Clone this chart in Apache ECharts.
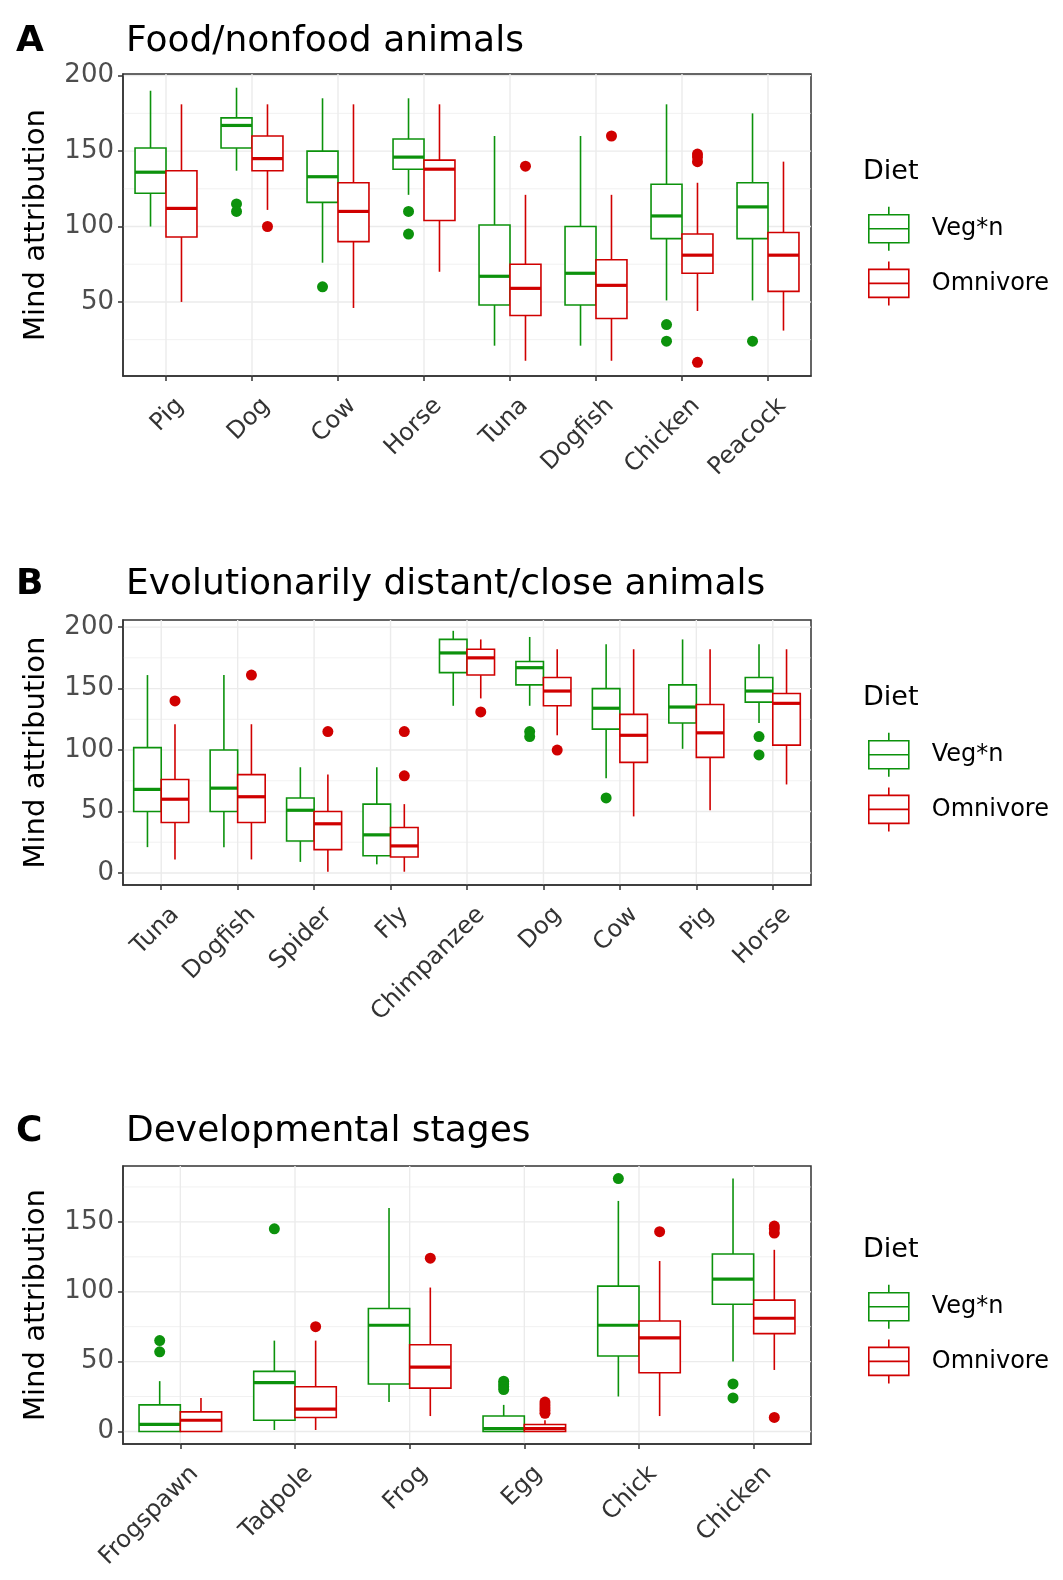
<!DOCTYPE html>
<html>
<head>
  <meta charset="UTF-8">
  <title>Mind attribution by diet</title>
  <script src="https://cdn.jsdelivr.net/npm/echarts@6/dist/echarts.min.js"></script>
  <style>
    body { margin: 0; background: #fff; }
  </style>
</head>
<body>
  <div id="chart" style="width:1063px; height:1580px;"></div>
  <script>
    // box stats: [lower whisker, Q1, median, Q3, upper whisker]
    var catsA = ['Pig', 'Dog', 'Cow', 'Horse', 'Tuna', 'Dogfish', 'Chicken', 'Peacock'];
    var vegA = [[100, 122, 136, 152, 190], [137, 152, 167, 172, 192], [76, 116, 133, 150, 185], [121, 138, 146, 158, 185],
                [21, 48, 67, 101, 160], [21, 48, 69, 100, 160], [51, 92, 107, 128, 181], [51, 92, 113, 129, 175]];
    var omniA = [[50, 93, 112, 137, 181], [111, 137, 145, 160, 181], [46, 90, 110, 129, 181], [70, 104, 138, 144, 181],
                 [11, 41, 59, 75, 121], [11, 39, 61, 78, 121], [44, 69, 81, 95, 129], [31, 57, 81, 96, 143]];
    var vegOutA = [[], [115, 110], [60], [110, 95], [], [], [35, 24], [24]];
    var omniOutA = [[], [100], [], [], [140], [160], [148, 146, 143, 10], []];
    var ticksA = [50, 100, 150, 200];

    var catsB = ['Tuna', 'Dogfish', 'Spider', 'Fly', 'Chimpanzee', 'Dog', 'Cow', 'Pig', 'Horse'];
    var vegB = [[21, 50, 68, 102, 161], [21, 50, 69, 100, 161], [9, 26, 51, 61, 86], [7, 14, 31, 56, 86],
                [136, 163, 179, 190, 197], [136, 153, 167, 172, 192], [77, 117, 134, 150, 186], [101, 122, 135, 153, 190],
                [122, 139, 148, 159, 186]];
    var omniB = [[11, 41, 60, 76, 121], [11, 41, 62, 80, 121], [1, 19, 40, 50, 80], [1, 13, 22, 37, 56],
                 [142, 161, 175, 182, 190], [112, 136, 148, 159, 182], [46, 90, 112, 129, 182], [51, 94, 114, 137, 182],
                 [72, 104, 138, 146, 182]];
    var vegOutB = [[], [], [], [], [], [115, 111], [61], [], [111, 96]];
    var omniOutB = [[140], [161], [115], [115, 79], [131], [100], [], [], []];
    var ticksB = [0, 50, 100, 150, 200];

    var catsC = ['Frogspawn', 'Tadpole', 'Frog', 'Egg', 'Chick', 'Chicken'];
    var vegC = [[0, 0, 5, 19, 36], [1, 8, 35, 43, 65], [21, 34, 76, 88, 160], [0, 0, 2, 11, 19],
                [25, 54, 76, 104, 165], [50, 91, 109, 127, 181]];
    var omniC = [[0, 0, 8, 14, 24], [1, 10, 16, 32, 65], [11, 31, 46, 62, 103], [0, 0, 2, 5, 8],
                 [11, 42, 67, 79, 122], [44, 70, 81, 94, 130]];
    var vegOutC = [[65, 57], [145], [], [36, 34, 32, 30], [181], [34, 24]];
    var omniOutC = [[], [75], [124], [21, 19, 17, 15, 13], [143], [147, 145, 142, 10]];
    var ticksC = [0, 50, 100, 150];

    var GREEN = '#0C920C';
    var RED = '#D00000';
    var FONT = 'DejaVu Sans, Liberation Sans, sans-serif';

    var panels = [
      { letter: 'A', title: 'Food/nonfood animals', cats: catsA, veg: vegA, omni: omniA, vegOut: vegOutA, omniOut: omniOutA,
        ticks: ticksA, min: 0.9, max: 201.1, top: 74, height: 302, titleTop: 19, legendTop: 153 },
      { letter: 'B', title: 'Evolutionarily distant/close animals', cats: catsB, veg: vegB, omni: omniB, vegOut: vegOutB, omniOut: omniOutB,
        ticks: ticksB, min: -9.8, max: 205.8, top: 620, height: 265, titleTop: 562, legendTop: 679 },
      { letter: 'C', title: 'Developmental stages', cats: catsC, veg: vegC, omni: omniC, vegOut: vegOutC, omniOut: omniOutC,
        ticks: ticksC, min: -9, max: 190, top: 1166, height: 278, titleTop: 1109, legendTop: 1231 }
    ];

    function boxRender(color, side) {
      return function (params, api) {
        var idx = api.value(0);
        var band = api.size([1, 0])[0];
        var w = band * 0.36;
        var cx = api.coord([idx, 0])[0] + side * w / 2;
        var y = function (d) { return api.coord([idx, api.value(d)])[1]; };
        var yLow = y(1), yQ1 = y(2), yMed = y(3), yQ3 = y(4), yHigh = y(5);
        var ls = { stroke: color, lineWidth: 1.6 };
        return {
          type: 'group',
          children: [
            { type: 'line', shape: { x1: cx, y1: yHigh, x2: cx, y2: yQ3 }, style: ls },
            { type: 'line', shape: { x1: cx, y1: yQ1, x2: cx, y2: yLow }, style: ls },
            { type: 'rect', shape: { x: cx - w / 2, y: yQ3, width: w, height: yQ1 - yQ3 },
              style: { fill: '#fff', stroke: color, lineWidth: 1.6 } },
            { type: 'line', shape: { x1: cx - w / 2, y1: yMed, x2: cx + w / 2, y2: yMed },
              style: { stroke: color, lineWidth: 3.2 } }
          ]
        };
      };
    }

    function outRender(color, side) {
      return function (params, api) {
        var idx = api.value(0);
        var band = api.size([1, 0])[0];
        var w = band * 0.36;
        var p = api.coord([idx, api.value(1)]);
        return { type: 'circle', shape: { cx: p[0] + side * w / 2, cy: p[1], r: 5.5 }, style: { fill: color } };
      };
    }

    function hGridRender(params, api) {
      var cs = params.coordSys;
      var yy = api.coord([0, api.value(1)])[1];
      return { type: 'line', shape: { x1: cs.x, y1: yy, x2: cs.x + cs.width, y2: yy },
               style: { stroke: '#EBEBEB', lineWidth: api.value(2) ? 1.4 : 0.7 } };
    }

    function vGridRender(params, api) {
      var cs = params.coordSys;
      var xx = api.coord([api.value(0), 0])[0];
      return { type: 'line', shape: { x1: xx, y1: cs.y, x2: xx, y2: cs.y + cs.height },
               style: { stroke: '#EBEBEB', lineWidth: 1.4 } };
    }

    function withIndex(stats) {
      return stats.map(function (s, i) { return [i].concat(s); });
    }
    function flattenOut(outs) {
      var res = [];
      outs.forEach(function (vals, i) { vals.forEach(function (v) { res.push([i, v]); }); });
      return res;
    }

    var legendIcon = 'path://M20,0L20,8M0,8L40,8L40,36L0,36ZM0,22L40,22M20,36L20,44';

    var option = {
      backgroundColor: '#fff',
      animation: false,
      textStyle: { fontFamily: FONT },
      title: [], grid: [], xAxis: [], yAxis: [], legend: [], series: []
    };

    panels.forEach(function (p, i) {
      option.title.push({ text: p.letter, left: 11, top: p.titleTop,
        textStyle: { fontSize: 36, fontWeight: 'bold', color: '#000', fontFamily: FONT } });
      option.title.push({ text: p.title, left: 121, top: p.titleTop,
        textStyle: { fontSize: 36, fontWeight: 'normal', color: '#000', fontFamily: FONT } });
      option.title.push({ text: 'Diet', left: 858, top: p.legendTop,
        textStyle: { fontSize: 27, fontWeight: 'normal', color: '#000', fontFamily: FONT } });

      option.grid.push({ left: 123, width: 688, top: p.top, height: p.height,
        show: true, borderColor: '#333', borderWidth: 1.5, backgroundColor: 'transparent' });

      option.xAxis.push({
        type: 'category', gridIndex: i, data: p.cats, boundaryGap: true,
        axisLine: { show: true, onZero: false, lineStyle: { color: '#333', width: 1.5 } },
        axisTick: { show: true, alignWithLabel: true, length: 5, lineStyle: { color: '#333', width: 1.5 } },
        axisLabel: { rotate: 45, fontSize: 24, color: '#333', margin: 12, fontFamily: FONT, interval: 0,
                     verticalAlign: 'top', padding: [8, 0, 0, 0] },
        splitLine: { show: false }
      });

      option.yAxis.push({
        type: 'value', gridIndex: i, min: p.min, max: p.max,
        name: 'Mind attribution', nameLocation: 'middle', nameGap: 72,
        nameTextStyle: { fontSize: 29, color: '#000', fontFamily: FONT },
        axisLine: { show: true, onZero: false, lineStyle: { color: '#333', width: 1.5 } },
        axisTick: { show: true, length: 5, customValues: p.ticks, lineStyle: { color: '#333', width: 1.5 } },
        axisLabel: { fontSize: 26, color: '#4D4D4D', margin: 9, fontFamily: FONT, customValues: p.ticks },
        splitLine: { show: false }
      });

      option.legend.push({
        orient: 'vertical', left: 863, top: p.legendTop + 48,
        itemWidth: 40, itemHeight: 44, itemGap: 9,
        selectedMode: false,
        textStyle: { fontSize: 24, color: '#000', fontFamily: FONT, padding: [0, 0, 0, 18] },
        data: [
          { name: 'Veg*n', icon: legendIcon, itemStyle: { color: '#fff', borderColor: GREEN, borderWidth: 1.6 } },
          { name: 'Omnivore', icon: legendIcon, itemStyle: { color: '#fff', borderColor: RED, borderWidth: 1.6 } }
        ]
      });

      // grid lines: major at tick values, minor halfway between
      var hData = [];
      for (var v = -25; v <= 225; v += 25) {
        if (v > p.min && v < p.max) hData.push([0, v, v % 50 === 0 ? 1 : 0]);
      }
      var vData = p.cats.map(function (c, k) { return [k, 0]; });

      option.series.push({ type: 'custom', xAxisIndex: i, yAxisIndex: i, silent: true, z: 0,
        renderItem: hGridRender, data: hData, encode: { x: 0, y: 1 } });
      option.series.push({ type: 'custom', xAxisIndex: i, yAxisIndex: i, silent: true, z: 0,
        renderItem: vGridRender, data: vData, encode: { x: 0, y: 1 } });

      option.series.push({ type: 'custom', name: 'Veg*n', xAxisIndex: i, yAxisIndex: i, z: 2,
        itemStyle: { color: GREEN }, renderItem: boxRender(GREEN, -1),
        data: withIndex(p.veg), encode: { x: 0, y: [1, 2, 3, 4, 5] } });
      option.series.push({ type: 'custom', name: 'Omnivore', xAxisIndex: i, yAxisIndex: i, z: 2,
        itemStyle: { color: RED }, renderItem: boxRender(RED, 1),
        data: withIndex(p.omni), encode: { x: 0, y: [1, 2, 3, 4, 5] } });
      option.series.push({ type: 'custom', name: 'Veg*n', xAxisIndex: i, yAxisIndex: i, z: 3,
        itemStyle: { color: GREEN }, renderItem: outRender(GREEN, -1),
        data: flattenOut(p.vegOut), encode: { x: 0, y: 1 } });
      option.series.push({ type: 'custom', name: 'Omnivore', xAxisIndex: i, yAxisIndex: i, z: 3,
        itemStyle: { color: RED }, renderItem: outRender(RED, 1),
        data: flattenOut(p.omniOut), encode: { x: 0, y: 1 } });
    });

    var chart = echarts.init(document.getElementById('chart'), null, { renderer: 'canvas' });
    chart.setOption(option);
  </script>
</body>
</html>
